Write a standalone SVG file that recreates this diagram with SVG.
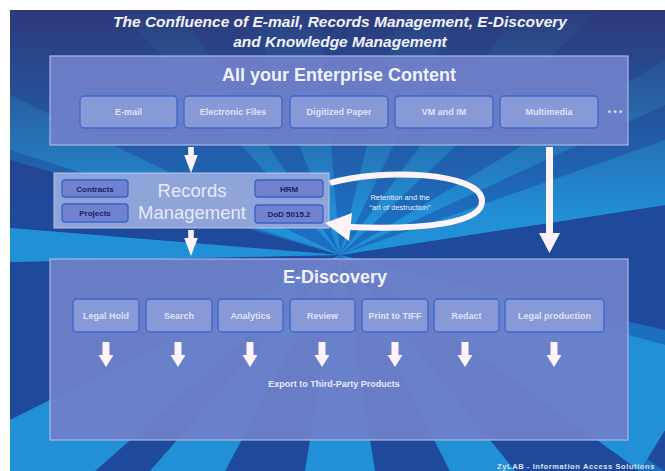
<svg xmlns="http://www.w3.org/2000/svg" width="665" height="471" viewBox="0 0 665 471">
<defs>
<style>
.title{font-family:"Liberation Sans",Arial,sans-serif;font-style:italic;font-weight:bold;font-size:15.5px;fill:#f2f2fb;text-anchor:middle}
.ptitle{font-family:"Liberation Sans",Arial,sans-serif;font-weight:bold;font-size:18px;fill:#f0f2fc;text-anchor:middle}
.panel{fill:#6f80c9;fill-opacity:0.93;stroke:#a9b6ea;stroke-width:1.2}
.sub{fill:#8799d6;stroke:#3d68cf;stroke-width:1.4}
.subt{font-family:"Liberation Sans",Arial,sans-serif;font-weight:bold;font-size:9px;fill:#dfe4f7;text-anchor:middle}
.rpanel{fill:#8fa4d8;stroke:#b6c4ec;stroke-width:1}
.rbox{fill:#7082d0;stroke:#3562cc;stroke-width:1.3}
.rboxt{font-family:"Liberation Sans",Arial,sans-serif;font-weight:bold;font-size:8px;fill:#1b2162;text-anchor:middle}
.rtitle{font-family:"Liberation Sans",Arial,sans-serif;font-size:18.5px;fill:#e6eafb;text-anchor:middle}
.arrow{fill:#fff3fa}
.small{font-family:"Liberation Sans",Arial,sans-serif;font-size:7.5px;fill:#eef0fb;text-anchor:middle}
.export{font-family:"Liberation Sans",Arial,sans-serif;font-weight:bold;font-size:9px;fill:#e6e9fa;text-anchor:middle}
.light{fill:#2190d6}
.dark{fill:#1f4a9c}
</style>
<path id="arrS" class="arrow" d="M-3.5,0 H3.5 V13 H7.5 L0,25 L-7.5,13 H-3.5 Z"/>
<path id="arrT" class="arrow" d="M-2.8,0 H2.8 V8 H6.8 L0,26 L-6.8,8 H-2.8 Z"/>
<linearGradient id="topShade" x1="0" y1="0" x2="0" y2="1">
<stop offset="0" stop-color="#2e3472" stop-opacity="0.9"/>
<stop offset="0.3" stop-color="#2e3472" stop-opacity="0.3"/>
<stop offset="0.45" stop-color="#2e3472" stop-opacity="0"/>
</linearGradient>
</defs>

<rect x="0" y="0" width="665" height="471" fill="#ffffff"/>
<g id="background">
<rect x="10" y="10" width="655" height="461" fill="#1c6ec0"/>
<polygon class="dark" points="340,255 95,471 150,471"/>
<polygon class="dark" points="340,255 225,471 305,471"/>
<polygon class="dark" points="340,255 375,471 450,471"/>
<polygon class="dark" points="340,255 515,471 640,471 665,430 665,471"/>
<polygon class="dark" points="340,255 10,262 10,420"/>
<polygon class="dark" points="340,255 665,205 665,330"/>
<polygon class="dark" points="340,255 10,160 10,228"/>
<polygon class="light" points="340,255 10,420 10,471 95,471"/>
<polygon class="light" points="340,255 150,471 225,471"/>
<polygon class="light" points="340,255 305,471 375,471"/>
<polygon class="light" points="340,255 450,471 515,471"/>
<polygon class="light" points="340,255 665,345 665,430 640,471"/>
<polygon class="light" points="340,255 665,140 665,205"/>
<polygon class="light" points="340,255 665,60 665,105"/>
<polygon class="light" points="340,255 520,10 600,10"/>
<polygon class="light" points="340,255 400,10 460,10"/>
<polygon class="light" points="340,255 250,10 320,10"/>
<polygon class="light" points="340,255 10,95 10,150"/>
<polygon class="light" points="340,255 10,228 10,262"/>
<polygon class="light" points="340,255 120,10 180,10"/>
<rect x="10" y="10" width="655" height="461" fill="url(#topShade)"/>
</g>

<g id="title">
<text class="title" x="340" y="27">The Confluence of E-mail, Records Management, E-Discovery</text>
<text class="title" x="340" y="47">and Knowledge Management</text>
</g>

<g id="enterprise-content">
<rect class="panel" x="50" y="56" width="578" height="89"/>
<text class="ptitle" x="339" y="81">All your Enterprise Content</text>
<g id="email"><rect class="sub" x="80" y="96" width="97" height="32" rx="4"/><text class="subt" x="128.5" y="115">E-mail</text></g>
<g id="electronic-files"><rect class="sub" x="184" y="96" width="98" height="32" rx="4"/><text class="subt" x="233" y="115">Electronic Files</text></g>
<g id="digitized-paper"><rect class="sub" x="290" y="96" width="98" height="32" rx="4"/><text class="subt" x="339" y="115">Digitized Paper</text></g>
<g id="vm-im"><rect class="sub" x="395" y="96" width="98" height="32" rx="4"/><text class="subt" x="444" y="115">VM and IM</text></g>
<g id="multimedia"><rect class="sub" x="500" y="96" width="98" height="32" rx="4"/><text class="subt" x="549" y="115">Multimedia</text></g>
<text class="subt" x="615" y="115">• • •</text>
</g>

<g id="records-management">
<rect class="rpanel" x="54" y="173" width="275" height="55"/>
<g id="contracts"><rect class="rbox" x="62" y="180" width="66" height="17" rx="3"/><text class="rboxt" x="95" y="191.5">Contracts</text></g>
<g id="projects"><rect class="rbox" x="62" y="204" width="66" height="18" rx="3"/><text class="rboxt" x="95" y="216">Projects</text></g>
<g id="hrm"><rect class="rbox" x="255" y="180" width="68" height="17" rx="3"/><text class="rboxt" x="289" y="191.5">HRM</text></g>
<g id="dod"><rect class="rbox" x="255" y="205" width="68" height="18" rx="3"/><text class="rboxt" x="289" y="217">DoD 5015.2</text></g>
<text class="rtitle" x="192" y="197">Records</text>
<text class="rtitle" x="192" y="219">Management</text>
</g>

<g id="e-discovery">
<rect class="panel" x="50" y="259" width="578" height="181"/>
<text class="ptitle" x="335" y="283">E-Discovery</text>
<g id="legal-hold"><rect class="sub" x="73" y="299" width="66" height="33" rx="4"/><text class="subt" x="106" y="318.5">Legal Hold</text></g>
<g id="search"><rect class="sub" x="146" y="299" width="66" height="33" rx="4"/><text class="subt" x="179" y="318.5">Search</text></g>
<g id="analytics"><rect class="sub" x="218" y="299" width="65" height="33" rx="4"/><text class="subt" x="250.5" y="318.5">Analytics</text></g>
<g id="review"><rect class="sub" x="290" y="299" width="65" height="33" rx="4"/><text class="subt" x="322.5" y="318.5">Review</text></g>
<g id="print-tiff"><rect class="sub" x="362" y="299" width="66" height="33" rx="4"/><text class="subt" x="395" y="318.5">Print to TIFF</text></g>
<g id="redact"><rect class="sub" x="434" y="299" width="65" height="33" rx="4"/><text class="subt" x="466.5" y="318.5">Redact</text></g>
<g id="legal-production"><rect class="sub" x="505" y="299" width="99" height="33" rx="4"/><text class="subt" x="554.5" y="318.5">Legal production</text></g>
<text class="export" x="334" y="387">Export to Third-Party Products</text>
</g>

<g id="connectors">
<use href="#arrT" x="191" y="147"/>
<use href="#arrT" x="191" y="230"/>
<path class="arrow" d="M546,147 H553 V233 H560 L549.5,253 L539,233 H546 Z"/>
<use href="#arrS" x="106" y="342"/>
<use href="#arrS" x="178" y="342"/>
<use href="#arrS" x="250" y="342"/>
<use href="#arrS" x="322" y="342"/>
<use href="#arrS" x="395" y="342"/>
<use href="#arrS" x="465" y="342"/>
<use href="#arrS" x="554" y="342"/>
<path d="M330,183 C380,168 480,172 482,200 C484,224 420,230 348,227" fill="none" stroke="#fff3fa" stroke-width="6"/>
<polygon class="arrow" points="325,223 352,213 349,241"/>
<text class="small" x="400" y="200">Retention and the</text>
<text class="small" x="400" y="210">“art of destruction”</text>
</g>

<text id="footer" x="497" y="469" font-family="'Liberation Sans',Arial,sans-serif" font-weight="bold" font-size="7.5" fill="#dfe2f4" letter-spacing="0.6">ZyLAB - Information Access Solutions</text>
</svg>
